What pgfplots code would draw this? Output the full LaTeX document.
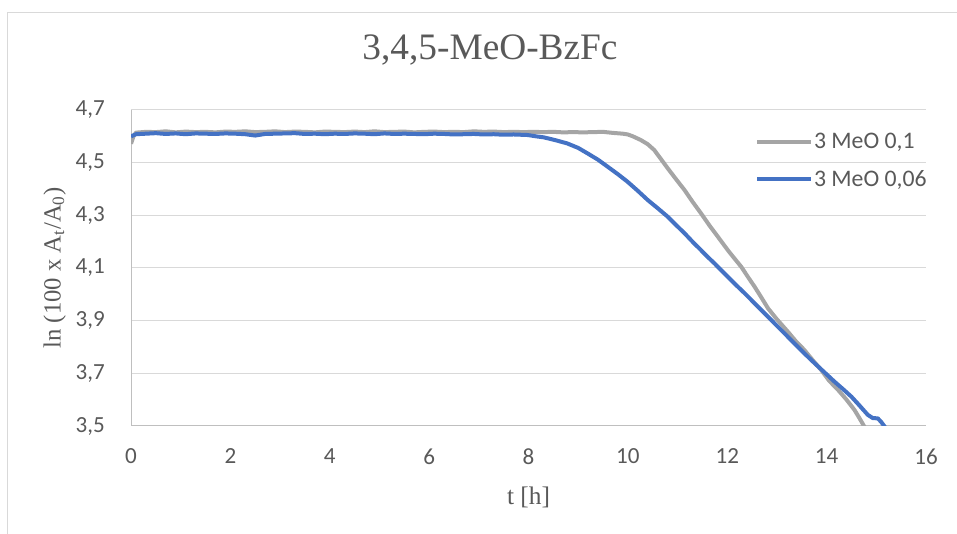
\documentclass[border=0pt]{standalone}
\usepackage{pgfplots}
\pgfplotsset{compat=1.18}
\usepackage{fontspec}
\setmainfont{Carlito}
\newfontfamily\tnr{Liberation Serif}
\definecolor{txtgray}{HTML}{595959}
\definecolor{gridgray}{HTML}{D9D9D9}
\definecolor{axgray}{HTML}{BFBFBF}
\definecolor{sgray}{HTML}{A5A5A5}
\definecolor{sblue}{HTML}{4472C4}
\begin{document}
\begin{tikzpicture}
\useasboundingbox (0,0) rectangle (717.75pt,400.5pt);
\draw[gridgray, line width=0.75pt] (5.25pt,0) -- (5.25pt,390.75pt) -- (717.75pt,390.75pt);
\begin{axis}[
  at={(98.25pt,81pt)}, anchor=south west,
  scale only axis, width=596.25pt, height=237pt,
  xmin=0, xmax=16, ymin=3.5, ymax=4.7,
  xtick={0,2,...,16},
  ytick={3.5,3.7,3.9,4.1,4.3,4.5,4.7},
  axis x line=bottom, axis y line=left,
  axis line style={draw=axgray, line width=0.75pt, -},
  major tick length=0pt,
  ymajorgrids, grid style={draw=gridgray, line width=0.75pt},
  /pgf/number format/assume math mode=true,
  yticklabel style={/pgf/number format/use comma, /pgf/number format/fixed, /pgf/number format/fixed zerofill, /pgf/number format/precision=1},
  yticklabel style={inner sep=0pt, anchor=east, xshift=-19.5pt},
  xticklabel style={inner sep=0pt, anchor=north, yshift=-17pt},
  tick label style={font=\fontsize{17.3}{20}\selectfont, text=txtgray},
  title={\tnr 3,4,5-MeO-BzFc},
  title style={at={(axis description cs:0.4516,1.1646)}, anchor=center, font=\fontsize{28}{32}\selectfont, text=txtgray},
  xlabel={\tnr t [h]},
  xlabel style={at={(axis description cs:0.5,-0.2247)}, anchor=center, font=\fontsize{19}{22}\selectfont, text=txtgray},
  ylabel={\tnr ln (100 x A\textsubscript{t}/A\textsubscript{0})},
  ylabel style={at={(axis description cs:-0.096,0.5)}, anchor=center, font=\fontsize{18.5}{22}\selectfont, text=txtgray},
  legend style={draw=none, fill=none, at={(0.78,0.939)}, anchor=north west,
    font=\fontsize{17.8}{20}\selectfont, text=txtgray, row sep=12.5pt,
    nodes={inner sep=1pt}},
  legend cell align=left,
  legend image code/.code={\draw[#1] (0pt,0pt) -- (40pt,0pt);},
  clip=true,
]
\addplot[sgray, line width=3pt, line join=round] coordinates {
(0,4.572) (0.05,4.600) (0.1,4.614) (0.3,4.617) (0.5,4.616) (0.7,4.619) (0.9,4.615)
(1.1,4.618) (1.3,4.616) (1.5,4.617) (1.7,4.615) (1.9,4.618) (2.1,4.617) (2.3,4.619)
(2.5,4.616) (2.7,4.617) (2.9,4.619) (3.1,4.616) (3.3,4.618) (3.5,4.617) (3.7,4.615)
(3.9,4.618) (4.1,4.617) (4.3,4.616) (4.5,4.618) (4.7,4.616) (4.9,4.619) (5.1,4.616)
(5.3,4.617) (5.5,4.618) (5.7,4.615) (5.9,4.617) (6.1,4.618) (6.3,4.616) (6.5,4.617)
(6.7,4.616) (6.9,4.619) (7.1,4.617) (7.3,4.618) (7.5,4.616) (7.7,4.617) (7.9,4.616)
(8.1,4.617) (8.3,4.616) (8.5,4.617) (8.7,4.615) (8.9,4.616) (9.1,4.615) (9.3,4.616)
(9.5,4.617) (9.7,4.613) (9.9,4.610) (10.0,4.607) (10.1,4.600) (10.26,4.586) (10.4,4.570)
(10.53,4.548) (10.66,4.515) (10.8,4.479) (10.97,4.437) (11.14,4.396) (11.3,4.352)
(11.47,4.308) (11.64,4.262) (11.81,4.219) (12.01,4.168) (12.15,4.135) (12.28,4.105)
(12.42,4.065) (12.55,4.029) (12.68,3.990) (12.82,3.947) (13.0,3.905) (13.22,3.858)
(13.38,3.822) (13.55,3.789) (13.72,3.750) (13.89,3.713) (14.05,3.672) (14.23,3.637)
(14.40,3.600) (14.56,3.561) (14.66,3.530) (14.76,3.497) (14.8,3.49)
};
\addlegendentry{3 MeO 0,1}
\addplot[sblue, line width=3pt, line join=round] coordinates {
(0,4.600) (0.1,4.608) (0.3,4.610) (0.5,4.612) (0.7,4.609) (0.9,4.611) (1.1,4.608)
(1.3,4.611) (1.5,4.610) (1.7,4.609) (1.9,4.611) (2.1,4.610) (2.3,4.608) (2.5,4.603)
(2.7,4.609) (2.9,4.610) (3.1,4.611) (3.3,4.612) (3.5,4.609) (3.7,4.610) (3.9,4.608)
(4.1,4.610) (4.3,4.609) (4.5,4.611) (4.7,4.610) (4.9,4.608) (5.1,4.611) (5.3,4.609)
(5.5,4.610) (5.7,4.609) (5.9,4.608) (6.1,4.610) (6.3,4.609) (6.5,4.607) (6.7,4.608)
(6.9,4.609) (7.1,4.607) (7.3,4.608) (7.5,4.606) (7.7,4.607) (7.98,4.605) (8.15,4.600)
(8.31,4.596) (8.55,4.585) (8.78,4.573) (9.0,4.556) (9.19,4.535) (9.4,4.511) (9.59,4.485)
(9.8,4.456) (9.99,4.428) (10.2,4.393) (10.40,4.358) (10.6,4.327) (10.80,4.295)
(10.97,4.263) (11.14,4.232) (11.3,4.200) (11.47,4.168) (11.6,4.143) (11.74,4.118)
(11.94,4.080) (12.14,4.042) (12.35,4.004) (12.55,3.966) (12.75,3.928) (12.95,3.890)
(13.15,3.852) (13.35,3.814) (13.55,3.776) (13.76,3.738) (13.96,3.703) (14.16,3.668)
(14.33,3.640) (14.5,3.611) (14.66,3.578) (14.83,3.542) (14.93,3.530) (15.03,3.529)
(15.1,3.515) (15.17,3.497) (15.2,3.49)
};
\addlegendentry{3 MeO 0,06}
\end{axis}
\end{tikzpicture}
\end{document}
